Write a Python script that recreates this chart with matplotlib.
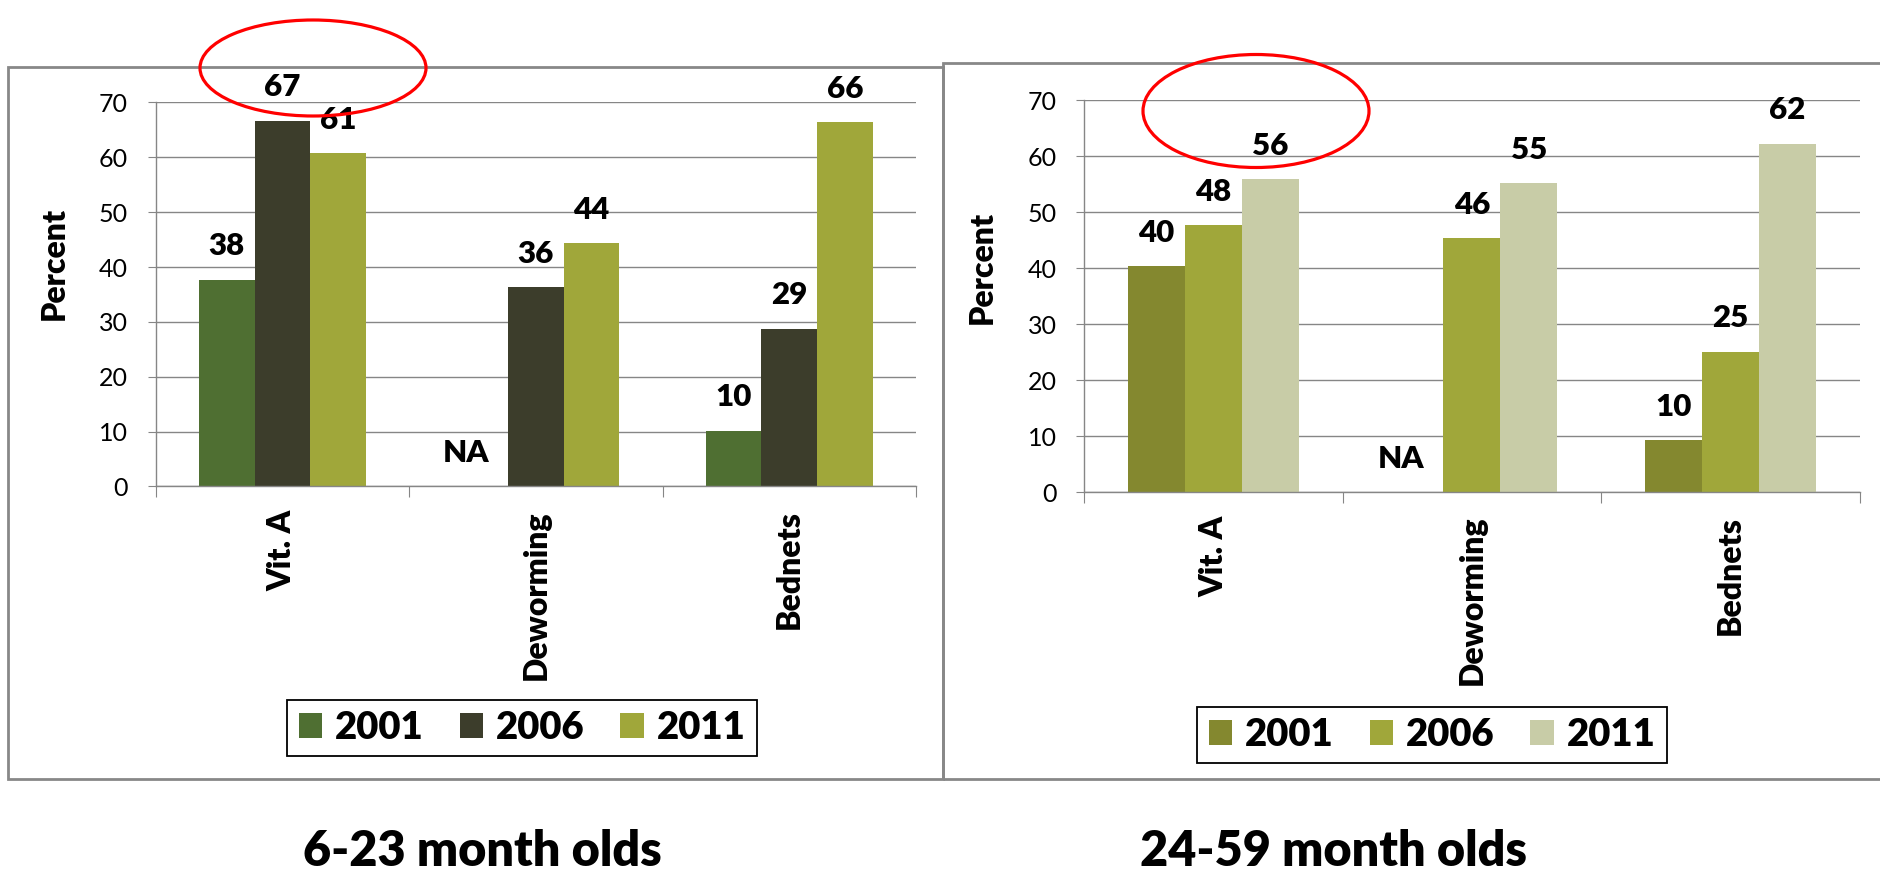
"""Coverage of Vit. A, deworming and bednets by age group (2001 / 2006 / 2011)."""
import matplotlib

matplotlib.use("Agg")
import matplotlib.pyplot as plt
import numpy as np
from matplotlib.patches import Ellipse, Rectangle

plt.rcParams.update({"font.family": ["Lato", "DejaVu Sans"], "font.size": 18})

W, H = 1880, 871  # output size in pixels, drawn at 100 dpi
GRID = "#868686"
BOLD = "heavy"

categories = ["Vit. A", "Deworming", "Bednets"]
years = ["2001", "2006", "2011"]

# 6-23 month olds (bar heights, and the labels printed above them)
young_2001 = [37.7, 0.0, 10.2]
young_2006 = [66.7, 36.3, 28.8]
young_2011 = [60.8, 44.4, 66.4]
young_lab_2001 = ["38", "NA", "10"]
young_lab_2006 = ["67", "36", "29"]
young_lab_2011 = ["61", "44", "66"]

# 24-59 month olds
older_2001 = [40.4, 0.0, 9.3]
older_2006 = [47.7, 45.4, 25.1]
older_2011 = [55.9, 55.2, 62.2]
older_lab_2001 = ["40", "NA", "10"]
older_lab_2006 = ["48", "46", "25"]
older_lab_2011 = ["56", "55", "62"]

young_colors = ["#4f6f32", "#3c3d2b", "#a0a73a"]
older_colors = ["#84882f", "#a0a73a", "#c8cca7"]


def px_rect(x0, y0, x1, y1):
    """Pixel box (top-left origin) -> figure fraction [l, b, w, h]."""
    return [x0 / W, 1 - y1 / H, (x1 - x0) / W, (y1 - y0) / H]


def draw_panel(fig, box, series, labels, colors, ylabel_xy, legend_xy):
    ax = fig.add_axes(px_rect(*box))
    x = np.arange(len(categories)) + 0.5
    bw = 0.22
    for i, (vals, labs, col, yr) in enumerate(zip(series, labels, colors, years)):
        xs = x + (i - 1) * bw
        ax.bar(xs, vals, width=bw, color=col, label=yr, zorder=2)
        for xi, v, lab in zip(xs, vals, labs):
            dx = -10 if lab == "NA" else 0
            ax.annotate(lab, (xi, v), xytext=(dx, 24), textcoords="offset points",
                        ha="center", va="center", fontsize=22.5, fontweight=BOLD,
                        annotation_clip=False)

    ax.set_xlim(0, 3)
    ax.set_ylim(0, 70)
    ax.set_yticks(range(0, 71, 10))
    ax.yaxis.grid(True, color=GRID, lw=1.0)
    ax.set_axisbelow(True)
    for side in ("top", "right"):
        ax.spines[side].set_visible(False)
    for side in ("left", "bottom"):
        ax.spines[side].set_color(GRID)
        ax.spines[side].set_linewidth(1.0)
    ax.tick_params(axis="y", length=6, color=GRID, pad=14, labelsize=18)

    ax.set_xticks([0, 1, 2, 3])
    ax.tick_params(axis="x", which="major", length=8, color=GRID, labelbottom=False)
    ax.set_xticks(x, minor=True)
    ax.set_xticklabels(categories, minor=True, rotation=90, fontsize=23, fontweight=BOLD)
    ax.tick_params(axis="x", which="minor", length=0, pad=17)

    ax.set_ylabel("Percent", fontsize=23, fontweight=BOLD, va="center")
    ax.yaxis.set_label_coords(*ylabel_xy)

    leg = ax.legend(loc="center", bbox_to_anchor=(legend_xy[0] / W, 1 - legend_xy[1] / H),
                    bbox_transform=fig.transFigure, ncol=3,
                    prop={"weight": BOLD, "size": 27.5}, fancybox=False,
                    framealpha=1, edgecolor="black", handlelength=0.62,
                    handleheight=0.64, handletextpad=0.32, columnspacing=0.95,
                    borderpad=0.3, borderaxespad=0)
    leg.get_frame().set_linewidth(1.3)
    return ax


fig = plt.figure(figsize=(W / 100, H / 100), dpi=100)

# panel frames
for x0, y0, x1, y1 in [(8, 66.7, 943.3, 778.7), (943.3, 63, 1886, 778.7)]:
    l, b, w, h = px_rect(x0, y0, x1, y1)
    fig.add_artist(Rectangle((l, b), w, h, transform=fig.transFigure,
                             fill=False, ec="#888888", lw=2.0))

draw_panel(fig, (155.7, 102.5, 916, 486.5),
           [young_2001, young_2006, young_2011],
           [young_lab_2001, young_lab_2006, young_lab_2011],
           young_colors, (-0.134, 0.582), (522, 728))
draw_panel(fig, (1084.3, 100, 1859.5, 492.3),
           [older_2001, older_2006, older_2011],
           [older_lab_2001, older_lab_2006, older_lab_2011],
           older_colors, (-0.132, 0.572), (1432, 735))

# red highlight ellipses around the Vit. A results
for cx, cy, ew, eh in [(313, 68, 226, 96), (1256, 111, 226, 113)]:
    fig.add_artist(Ellipse((cx / W, 1 - cy / H), ew / W, eh / H,
                           transform=fig.transFigure, fill=False,
                           ec="#ff0000", lw=2.3, zorder=10))

fig.text(482 / W, 1 - 866 / H, "6-23 month olds", ha="center", va="baseline",
         fontsize=35, fontweight=BOLD)
fig.text(1334 / W, 1 - 866 / H, "24-59 month olds", ha="center", va="baseline",
         fontsize=35, fontweight=BOLD)

fig.savefig("out.png", dpi=100)
plt.close(fig)
